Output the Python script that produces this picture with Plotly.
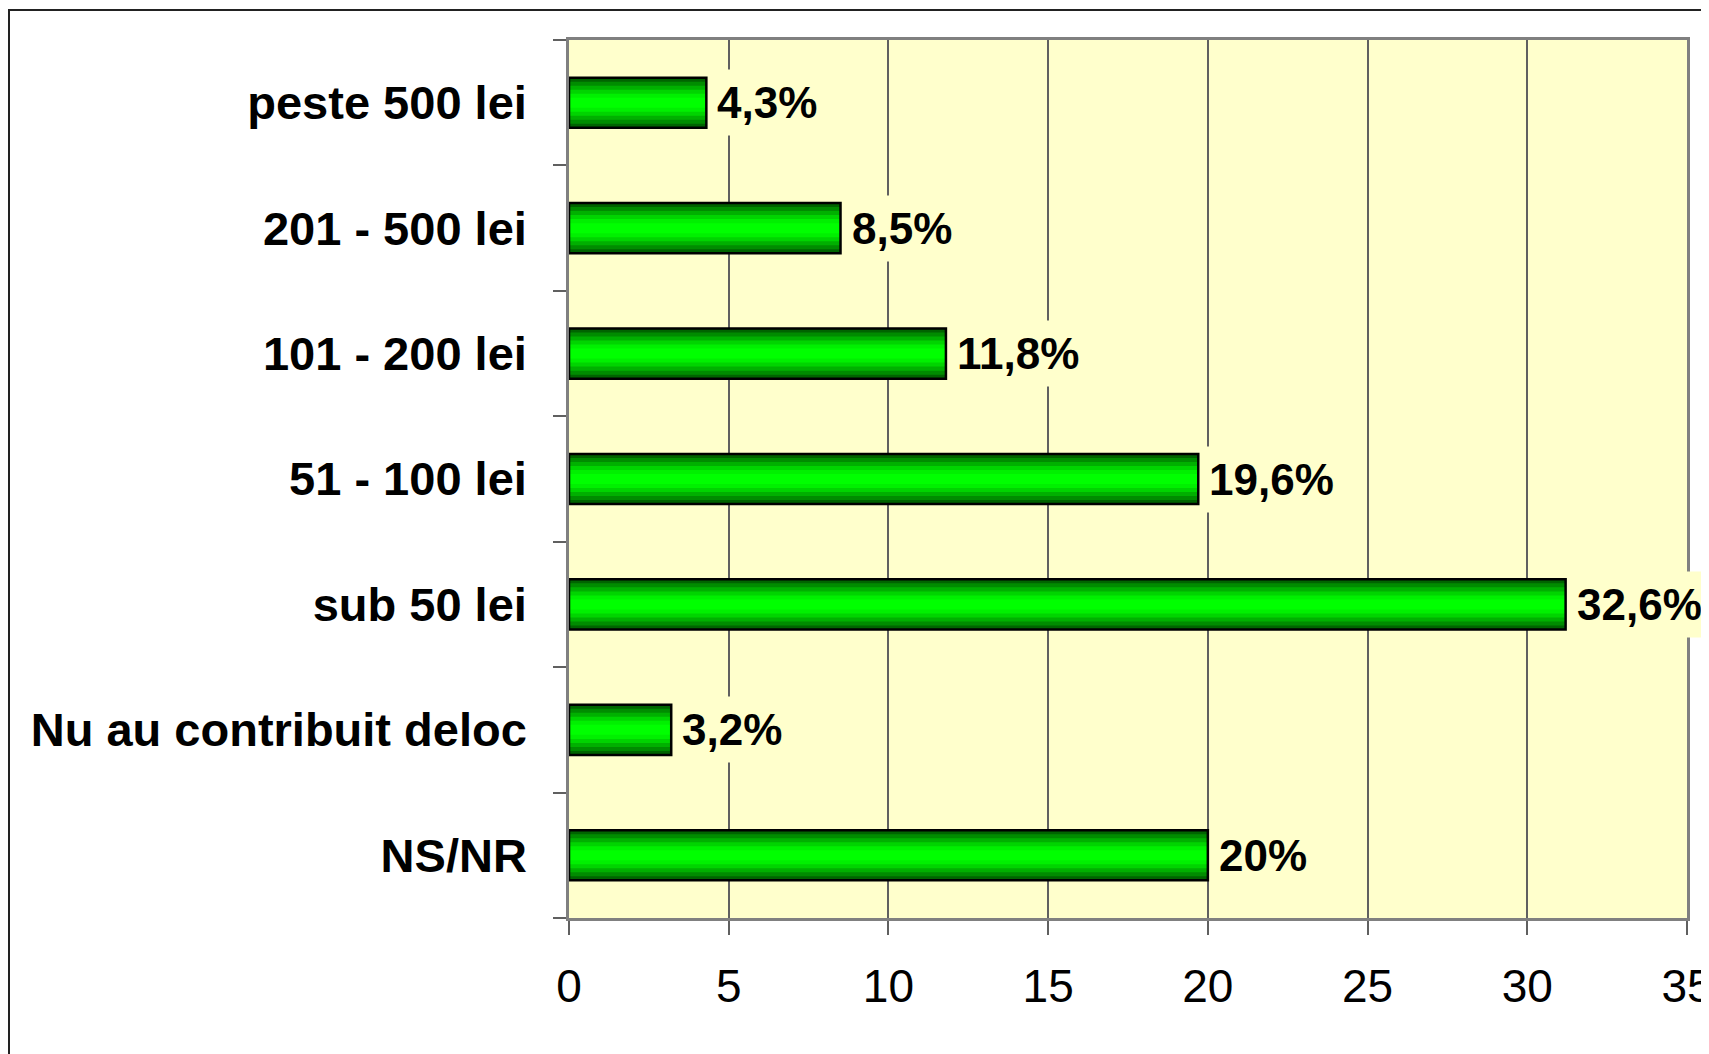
import plotly.graph_objects as go

categories = ["NS/NR", "Nu au contribuit deloc", "sub 50 lei", "51 - 100 lei",
              "101 - 200 lei", "201 - 500 lei", "peste 500 lei"]
values = [20.0, 3.2, 31.2, 19.7, 11.8, 8.5, 4.3]
value_labels = ["20%", "3,2%", "32,6%", "19,6%", "11,8%", "8,5%", "4,3%"]
x_ticks = [0, 5, 10, 15, 20, 25, 30, 35]

W, H = 1709, 1054
# page body has an 8px margin; margins compensate so the plot lands where it should
ML, MR, MT, MB = 561, 30, 32, 144
PW, PH = W - ML - MR, H - MT - MB

BAR_W = 0.40
bands = [(1.0, "#006400"), (0.84, "#008C00"), (0.68, "#00B000"),
         (0.52, "#00D400"), (0.36, "#00F000"), (0.2, "#00FF00")]

fig = go.Figure()
for frac, col in bands:
    fig.add_trace(go.Bar(
        x=values, y=categories, orientation="h", width=BAR_W * frac,
        marker=dict(color=col, line=dict(width=0)), hoverinfo="skip",
        showlegend=False))
# outline on top
fig.add_trace(go.Bar(
    x=values, y=categories, orientation="h", width=BAR_W,
    marker=dict(color="rgba(0,0,0,0)", line=dict(color="#000000", width=2.5)),
    showlegend=False))

for v, c, t in zip(values, categories, value_labels):
    fig.add_annotation(x=v, y=c, text=t, showarrow=False, xanchor="left",
                       yanchor="middle", xshift=2, bgcolor="#FFFFCC",
                       borderpad=8,
                       font=dict(family="Liberation Sans", size=44,
                                 color="#000000", weight="bold"))

def px2x(px):
    return (px - ML) / PW

def py2y(py):
    return (H - MB - py) / PH

shapes = [
    # outer frame
    dict(type="rect", xref="paper", yref="paper", x0=px2x(1), x1=px2x(W + 50),
         y0=py2y(H + 50), y1=py2y(2), line=dict(color="#222222", width=2),
         fillcolor="rgba(0,0,0,0)", layer="below"),
]

fig.update_layout(
    width=W, height=H,
    margin=dict(l=ML, r=MR, t=MT, b=MB, pad=0, autoexpand=False),
    paper_bgcolor="#FFFFFF", plot_bgcolor="#FFFFCC",
    barmode="overlay", shapes=shapes, showlegend=False,
    xaxis=dict(range=[0, 35], tickvals=x_ticks, ticktext=[str(t) for t in x_ticks],
               automargin=False, ticklabeloverflow="allow",
               showgrid=True, gridcolor="#606060", gridwidth=1.5,
               zeroline=False, showline=True, linecolor="#808080", linewidth=2.5,
               mirror=True, ticks="outside", ticklen=14, tickwidth=1.5,
               tickcolor="#606060", ticklabelstandoff=12,
               tickfont=dict(family="Liberation Sans", size=46, color="#000000")),
    yaxis=dict(categoryorder="array", categoryarray=categories, automargin=False,
               showgrid=False, zeroline=False, showline=True, linecolor="#808080",
               linewidth=2.5, mirror=True, ticks="outside", ticklen=13,
               tickwidth=1.5, tickcolor="#606060", tickson="boundaries",
               ticklabelstandoff=30,
               tickfont=dict(family="Liberation Sans", size=47, color="#000000",
                             weight="bold")),
)

fig.write_html("out.html")
